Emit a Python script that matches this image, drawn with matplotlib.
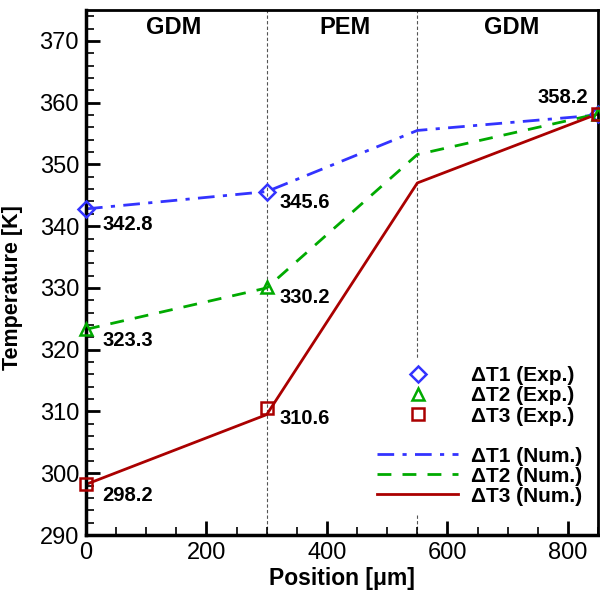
import matplotlib.pyplot as plt
from matplotlib.lines import Line2D
from matplotlib.ticker import MultipleLocator

plt.rcParams['font.family'] = ['Liberation Sans', 'DejaVu Sans']

# experimental points
exp_x = [0, 300, 850]
exp_t1 = [342.8, 345.6, 358.2]
exp_t2 = [323.3, 330.2, 358.2]
exp_t3 = [298.2, 310.6, 358.2]

# numerical profiles
num_x = [0, 300, 550, 850]
num_t1 = [342.8, 345.6, 355.5, 358.0]
num_t2 = [323.3, 330.0, 351.6, 358.2]
num_t3 = [298.2, 309.5, 347.0, 358.2]

regions = ["GDM", "PEM", "GDM"]
region_x = [145, 430, 707]
boundaries = [300, 550]

blue = "#3333ff"
green = "#00aa00"
red = "#aa0000"
dashdot = (0, (6, 3, 1.5, 3))
dashed = (0, (5, 4))

fig = plt.figure(figsize=(6, 5.99), dpi=100)
ax = fig.add_axes([0.1433, 0.1068, 0.8535, 0.8765])

for b in boundaries:
    ax.axvline(b, color="#555555", linestyle=(0, (3, 2)), linewidth=0.8, zorder=1)

ax.plot(num_x, num_t1, color=blue, linestyle=dashdot, linewidth=2, zorder=2)
ax.plot(num_x, num_t2, color=green, linestyle=dashed, linewidth=2, zorder=2)
ax.plot(num_x, num_t3, color=red, linestyle="-", linewidth=2, zorder=2)

ax.plot(exp_x, exp_t1, linestyle="none", marker="D", markersize=8, mfc="none",
        mec=blue, mew=1.8, zorder=3, clip_on=False)
ax.plot(exp_x, exp_t2, linestyle="none", marker="^", markersize=9, mfc="none",
        mec=green, mew=1.8, zorder=3, clip_on=False)
ax.plot(exp_x, exp_t3, linestyle="none", marker="s", markersize=8, mfc="none",
        mec=red, mew=1.8, zorder=3, clip_on=False)

# value annotations (offsets in points)
for ys in [exp_t1, exp_t2, exp_t3]:
    for x, y in zip(exp_x[:2], ys[:2]):
        dx = 12 if x == 0 else 9
        dy = -11 if y == exp_t1[0] else -8
        ax.annotate(f"{y:.1f}", (x, y), xytext=(dx, dy), textcoords="offset points",
                    ha="left", va="center", fontsize=14.5, fontweight="bold")
ax.annotate(f"{exp_t3[2]:.1f}", (exp_x[2], exp_t3[2]), xytext=(-7, 12),
            textcoords="offset points", ha="right", va="center",
            fontsize=14.5, fontweight="bold")

for name, x in zip(regions, region_x):
    ax.text(x, 372.2, name, ha="center", va="center", fontsize=17, fontweight="bold")

ax.set_xlim(0, 850)
ax.set_ylim(290, 375)
ax.xaxis.set_major_locator(MultipleLocator(200))
ax.xaxis.set_minor_locator(MultipleLocator(50))
ax.yaxis.set_major_locator(MultipleLocator(10))
ax.yaxis.set_minor_locator(MultipleLocator(2))
ax.tick_params(which="both", direction="in", top=False, right=False,
               labelsize=17, pad=5)
ax.tick_params(which="major", length=10, width=2)
ax.tick_params(which="minor", length=6, width=1.2)
for s in ax.spines.values():
    s.set_linewidth(2)
ax.spines["left"].set_linewidth(2.5)
ax.spines["bottom"].set_linewidth(2.5)

ax.set_xlabel("Position [\u03bcm]", fontsize=16.5, fontweight="bold", labelpad=2)
ax.set_ylabel("Temperature [K]", fontsize=15.5, fontweight="bold")
ax.yaxis.set_label_coords(-0.123, 0.472)

handles = [
    Line2D([], [], linestyle="none", marker="D", markersize=8, mfc="none", mec=blue, mew=1.8),
    Line2D([], [], linestyle="none", marker="^", markersize=9, mfc="none", mec=green, mew=1.8),
    Line2D([], [], linestyle="none", marker="s", markersize=8, mfc="none", mec=red, mew=1.8),
    Line2D([], [], linestyle="none"),
    Line2D([], [], color=blue, linestyle=dashdot, linewidth=2),
    Line2D([], [], color=green, linestyle=dashed, linewidth=2),
    Line2D([], [], color=red, linewidth=2),
]
labels = ["\u0394T1 (Exp.)", "\u0394T2 (Exp.)", "\u0394T3 (Exp.)", "",
          "\u0394T1 (Num.)", "\u0394T2 (Num.)", "\u0394T3 (Num.)"]
leg = ax.legend(handles, labels, loc="upper right", bbox_to_anchor=(0.985, 0.337),
                frameon=True, framealpha=1, edgecolor="none", facecolor="white",
                handlelength=3.9, handletextpad=0.6, labelspacing=0.05,
                prop={"weight": "bold", "size": 15}, borderpad=0.4,
                borderaxespad=0, fancybox=False)

fig.savefig("out.png", dpi=100)
